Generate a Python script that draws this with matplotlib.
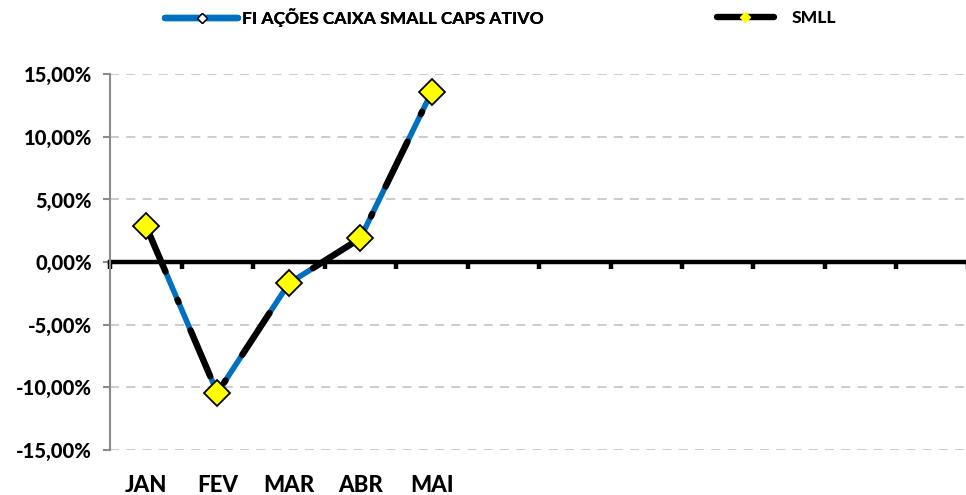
import numpy as np
import matplotlib.pyplot as plt
from matplotlib.lines import Line2D

plt.rcParams['font.family'] = ['Lato', 'DejaVu Sans']
plt.rcParams['font.weight'] = 'black'

# monthly returns (%), Jan-May
meses = ['JAN', 'FEV', 'MAR', 'ABR', 'MAI']
fundo = [2.9, -10.45, -1.7, 1.9, 13.6]
smll = [2.9, -10.45, -1.7, 1.9, 13.6]
n_cat = 12

fig = plt.figure(figsize=(9.66, 4.95), dpi=100)
ax = fig.add_axes([0.114, 0.091, 0.888, 0.759])

x = np.arange(len(meses)) + 0.5

ax.plot(x, fundo, color='#0070c0', lw=4, solid_capstyle='round',
        marker='D', ms=5, mfc='white', mec='black', mew=1, zorder=3)
ax.plot(x, smll, color='black', lw=4.6, linestyle=(0, (7.8, 4.8, 0.4, 4.8)),
        dash_capstyle='round', zorder=4)
ax.plot(x, smll, linestyle='none', marker='D', ms=13, mfc='#ffff00',
        mec='black', mew=1.3, zorder=5)

ax.set_xlim(0, n_cat)
ax.set_ylim(-15, 15)
yt = np.arange(-15, 16, 5)
ax.set_yticks(yt)
ax.set_yticklabels([f'{v:.2f}%'.replace('.', ',') for v in yt], fontsize=14.5)
for v in yt:
    if v != 0:
        ax.axhline(v, color='#c8c8c8', lw=1.3, ls=(0, (5, 4)), zorder=1)

# category axis crosses at zero
ax.spines['bottom'].set_position(('data', 0))
ax.spines['bottom'].set_linewidth(3.2)
ax.spines['bottom'].set_zorder(2)
ax.spines['top'].set_visible(False)
ax.spines['right'].set_visible(False)
ax.spines['left'].set_color('#8c8c8c')
ax.spines['left'].set_linewidth(1.5)
ax.set_xticks(np.arange(0, n_cat + 1))
ax.set_xticklabels([])
ax.tick_params(axis='x', direction='out', length=5, width=3.2, color='black')
ax.tick_params(axis='y', direction='out', length=5, width=1.5, color='#8c8c8c', pad=8)

# month names under the plot
for xi, m in zip(x, meses):
    ax.text(xi, -0.095, m, transform=ax.get_xaxis_transform(),
            ha='center', va='center', fontsize=16, fontweight='black')

h_fundo = Line2D([], [], color='#0070c0', lw=4.6, solid_capstyle='round',
                 marker='D', ms=5, mfc='white', mec='black', mew=1)
h_smll = Line2D([], [], color='black', lw=4.6, solid_capstyle='round',
                marker='D', ms=5, mfc='#ffff00', mec='#ffff00')
leg_kw = dict(loc='center left', frameon=False, borderpad=0, borderaxespad=0,
              handletextpad=0.25, prop={'weight': 'black', 'size': 12.5})
leg1 = fig.legend([h_fundo], ['FI AÇÕES CAIXA SMALL CAPS ATIVO'],
                  bbox_to_anchor=(0.171, 0.964), handlelength=4.2, **leg_kw)
fig.legend([h_smll], ['SMLL'], bbox_to_anchor=(0.742, 0.964),
           handlelength=3.3, **dict(leg_kw, handletextpad=1.0))
fig.add_artist(leg1)

fig.savefig('out.png', dpi=100)
